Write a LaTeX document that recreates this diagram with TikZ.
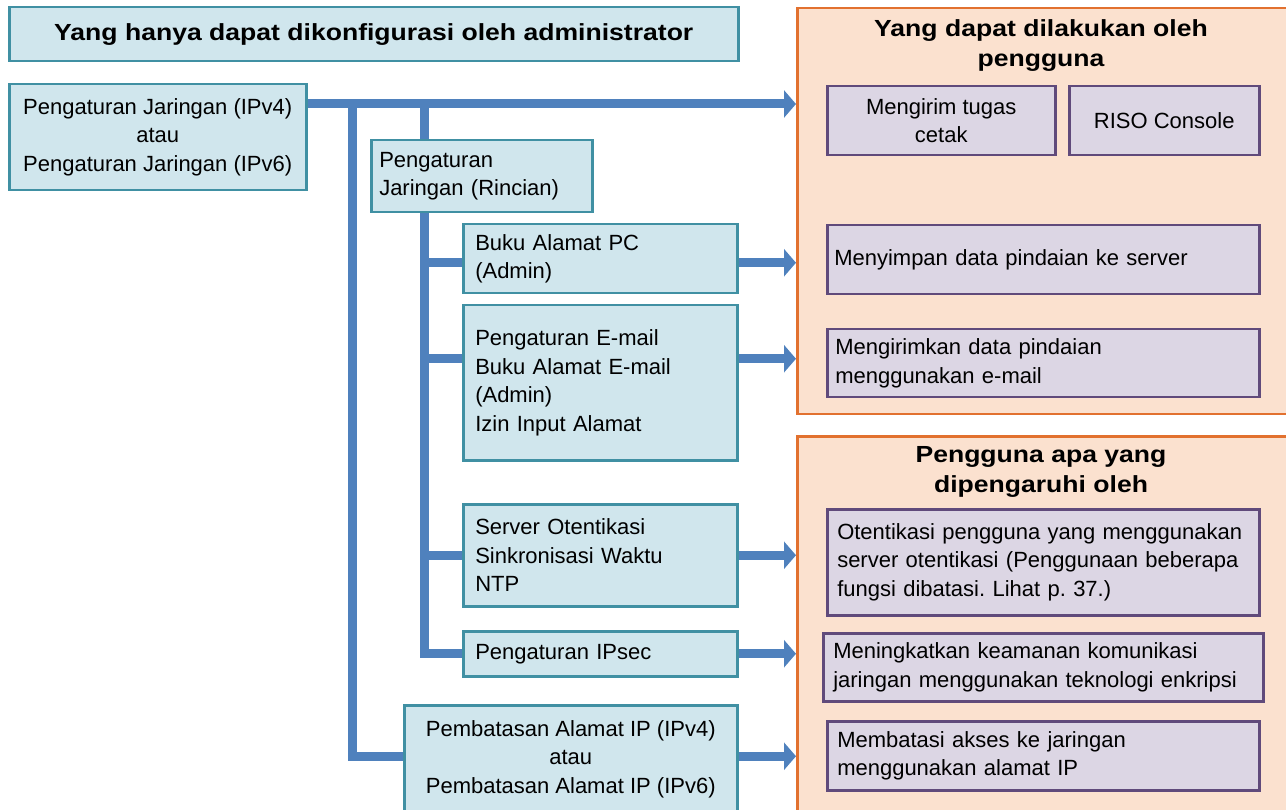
\documentclass[tikz,border=0pt]{standalone}
\usepackage{fontspec}
\setmainfont{Liberation Sans}
\newfontfamily\headfont[FakeStretch=1.14]{Liberation Sans}
\usetikzlibrary{arrows.meta,backgrounds}
\definecolor{admfill}{HTML}{D0E6ED}
\definecolor{admline}{HTML}{4090A3}
\definecolor{usrfill}{HTML}{DCD6E4}
\definecolor{usrline}{HTML}{604A7B}
\definecolor{panfill}{HTML}{FBE1CF}
\definecolor{panline}{HTML}{E2712F}
\definecolor{busblue}{HTML}{4F81BD}
\frenchspacing
\begin{document}
\begin{tikzpicture}[x=1pt,y=-1pt,
  every node/.style={font=\fontsize{22pt}{28.5pt}\selectfont,inner sep=0pt,anchor=north west},
  adm/.style={draw=admline,fill=admfill,line width=2.5pt},
  usr/.style={draw=usrline,fill=usrfill,line width=2.5pt},
  panel/.style={draw=panline,fill=panfill,line width=2.5pt},
  head/.style={font=\headfont\bfseries\fontsize{23.3pt}{30pt}\selectfont,align=center},
  bus/.style={draw=busblue,line width=9pt},
  feed/.style={bus,-{Triangle[width=27pt,length=12pt]}}]
  \useasboundingbox (0,0) rectangle (1286,810);
  \clip (0,0) rectangle (1286,810);

  % admin side
  \node[adm,head,minimum width=729pt,minimum height=54pt] (title) at (8,6)
    {Yang hanya dapat dikonfigurasi oleh administrator};
  \node[adm,align=center,minimum width=297pt,minimum height=106pt] (netcfg) at (8,83)
    {Pengaturan Jaringan (IPv4)\\atau\\Pengaturan Jaringan (IPv6)};
  \node[adm,align=left,text width=205pt,inner xsep=8pt,minimum height=72pt] (netdetail) at (370,139)
    {Pengaturan\\Jaringan (Rincian)};
  \node[adm,align=left,text width=250pt,inner xsep=12pt,minimum height=69pt] (pcbook) at (462,223)
    {Buku Alamat PC\\(Admin)};
  \node[adm,align=left,text width=250pt,inner xsep=12pt,minimum height=155pt] (mailcfg) at (462,304)
    {Pengaturan E-mail\\Buku Alamat E-mail\\(Admin)\\Izin Input Alamat};
  \node[adm,align=left,text width=250pt,inner xsep=12pt,minimum height=102pt] (authsrv) at (462,503)
    {Server Otentikasi\\Sinkronisasi Waktu\\NTP};
  \node[adm,align=left,text width=250pt,inner xsep=12pt,minimum height=45pt] (ipsec) at (462,630)
    {Pengaturan IPsec};
  \node[adm,align=center,minimum width=333pt,minimum height=108pt] (iplimit) at (403,704)
    {Pembatasan Alamat IP (IPv4)\\atau\\Pembatasan Alamat IP (IPv6)};

  % user side
  \node[panel,minimum width=500pt,minimum height=406pt] (usrpanel) at (796,7) {};
  \node[panel,minimum width=500pt,minimum height=390pt] (affpanel) at (796,435) {};
  \node[head,anchor=center] (usrhead) at (1041,46) {Yang dapat dilakukan oleh\\pengguna};
  \node[head,anchor=center] (affhead) at (1041,472) {Pengguna apa yang\\dipengaruhi oleh};
  \node[usr,align=center,minimum width=228pt,minimum height=69pt] (printjob) at (826,85)
    {Mengirim tugas\\cetak};
  \node[usr,align=center,minimum width=190pt,minimum height=69pt] (riso) at (1068,85)
    {RISO Console};
  \node[usr,align=left,text width=418pt,inner xsep=7pt,minimum height=69pt] (scansrv) at (826,224)
    {Menyimpan data pindaian ke server};
  \node[usr,align=left,text width=416pt,inner xsep=8pt,minimum height=68pt] (scanmail) at (826,328)
    {Mengirimkan data pindaian\\menggunakan e-mail};
  \node[usr,align=left,text width=412pt,inner xsep=10pt,minimum height=106pt] (userauth) at (826,508)
    {Otentikasi pengguna yang menggunakan\\server otentikasi (Penggunaan beberapa\\fungsi dibatasi. Lihat p. 37.)};
  \node[usr,align=left,text width=420pt,inner xsep=10pt,minimum height=68pt] (encrypt) at (822,632)
    {Meningkatkan keamanan komunikasi\\jaringan menggunakan teknologi enkripsi};
  \node[usr,align=left,text width=412pt,inner xsep=10pt,minimum height=69pt] (ipaccess) at (826,720)
    {Membatasi akses ke jaringan\\menggunakan alamat IP};

  % connectors
  \begin{scope}[on background layer]
    \coordinate (hub) at (305,104);
    \coordinate (trunkA) at (352,104);
    \coordinate (trunkB) at (424,104);
    \coordinate (pcout) at ([yshift=-4pt]pcbook.east);
    \coordinate (mailtap) at ([yshift=24pt]mailcfg.west);
    \coordinate (mailout) at ([yshift=24pt]mailcfg.east);
    \coordinate (limtap) at ([yshift=3pt]iplimit.west);
    \coordinate (limout) at ([yshift=3pt]iplimit.east);
    \draw[feed] (hub) -- (hub -| usrpanel.west);
    \draw[bus] (trunkA) |- (limtap);
    \draw[bus] (trunkB) |- (ipsec.west);
    \draw[bus] (trunkB |- mailtap) -- (mailtap);
    \draw[bus] (trunkB |- pcout) -- (pcbook.west |- pcout);
    \draw[bus] (trunkB |- authsrv.west) -- (authsrv.west);
    \draw[feed] (pcout) -- (pcout -| usrpanel.west);
    \draw[feed] (mailout) -- (mailout -| usrpanel.west);
    \draw[feed] (limout) -- (limout -| affpanel.west);
    \foreach \b in {authsrv,ipsec}
      \draw[feed] (\b.east) -- (\b.east -| affpanel.west);
  \end{scope}
\end{tikzpicture}
\end{document}
